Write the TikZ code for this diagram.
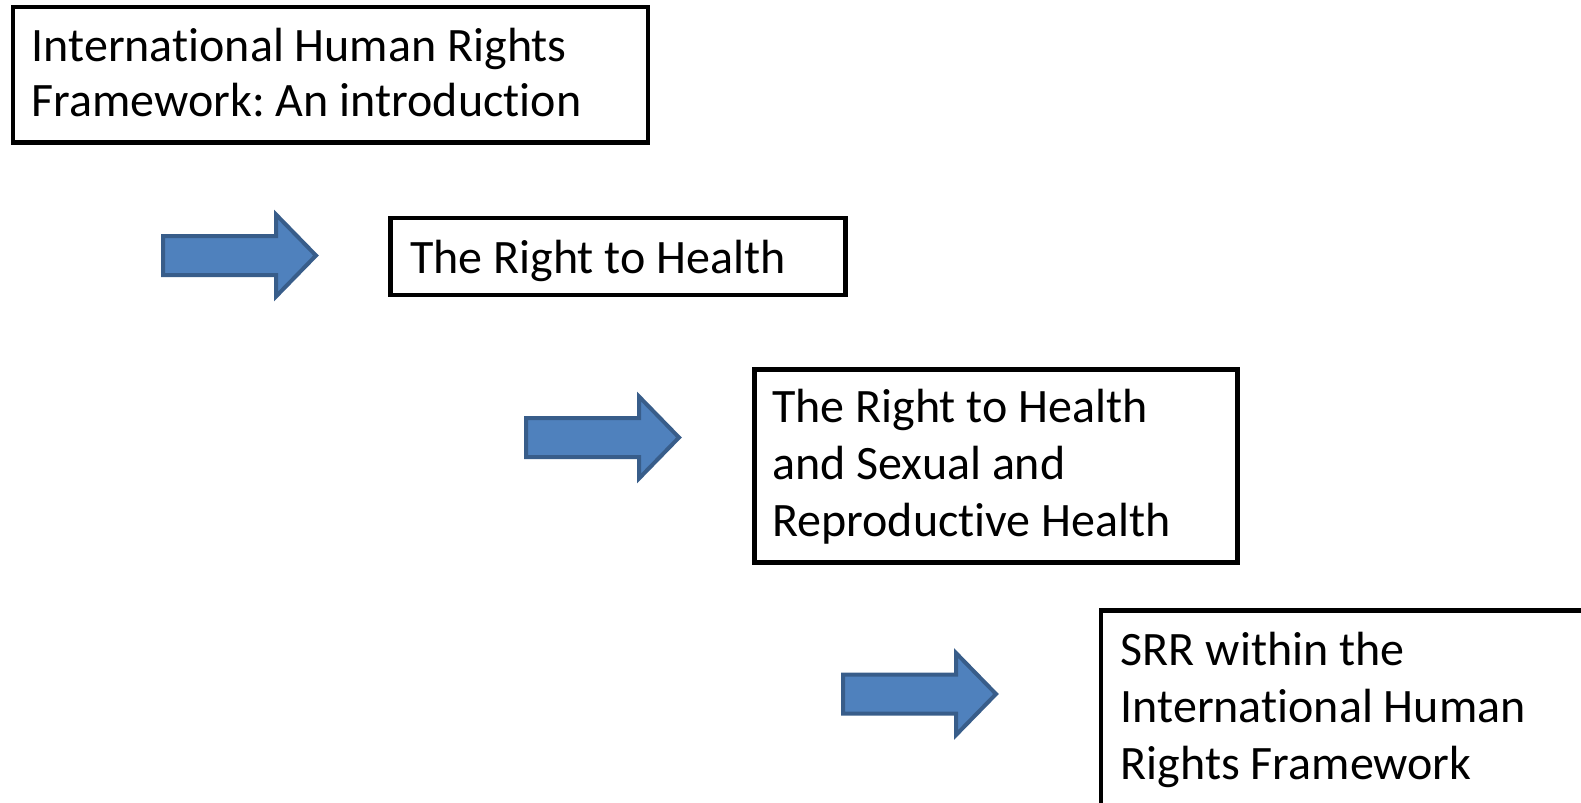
\documentclass[tikz,border=0pt]{standalone}
\usepackage{fontspec}
\setmainfont[Ligatures={NoCommon}]{Carlito}
\frenchspacing
\definecolor{arrowfill}{HTML}{4F81BD}
\definecolor{arrowedge}{HTML}{385D8A}
\begin{document}
\begin{tikzpicture}[x=1bp,y=-1bp,
  box/.style={draw=black,line width=4.5bp,fill=white,inner sep=0pt,anchor=north west},
  txt/.style={anchor=base west,inner sep=0pt,font=\fontsize{48bp}{56bp}\selectfont},
  blockarrow/.style={fill=arrowfill,draw=arrowedge,line width=4bp,line join=miter}]
\useasboundingbox (0,0) rectangle (1581,802);
\clip (0,0) rectangle (1581,802);
% boxes
\node[box,minimum width=635bp,minimum height=135bp] (b1) at (10.5,5) {};
\node[box,minimum width=455bp,minimum height=77bp] (b2) at (388,215.5) {};
\node[box,minimum width=483bp,minimum height=193bp] (b3) at (752,367) {};
\node[box,minimum width=560bp,minimum height=260bp] (b4) at (1098.5,608) {};
% texts
\node[txt] (t1a) at (31.5,61.7) {International Human Rights};
\node[txt] (t1b) at (31.5,116.7) {Framework: An introduction};
\node[txt] (t2) at (410,273) {The Right to Health};
\node[txt] (t3a) at (772,422) {The Right to Health};
\node[txt] (t3b) at (772,479) {and Sexual and};
\node[txt] (t3c) at (772,536.5) {Reproductive Health};
\node[txt] (t4a) at (1120.5,665) {SRR within the};
\node[txt] (t4b) at (1120.5,722) {International Human};
\node[txt] (t4c) at (1120.5,779) {Rights Framework};
% arrows
\foreach \ax/\ay in {163/255.5, 526/437.5, 843/694}{
  \draw[blockarrow] (\ax,\ay-19.5) -- ++(113,0) -- ++(0,-21.5) -- ++(40,41)
     -- ++(-40,41) -- ++(0,-21.5) -- ++(-113,0) -- cycle;
}
\end{tikzpicture}
\end{document}
